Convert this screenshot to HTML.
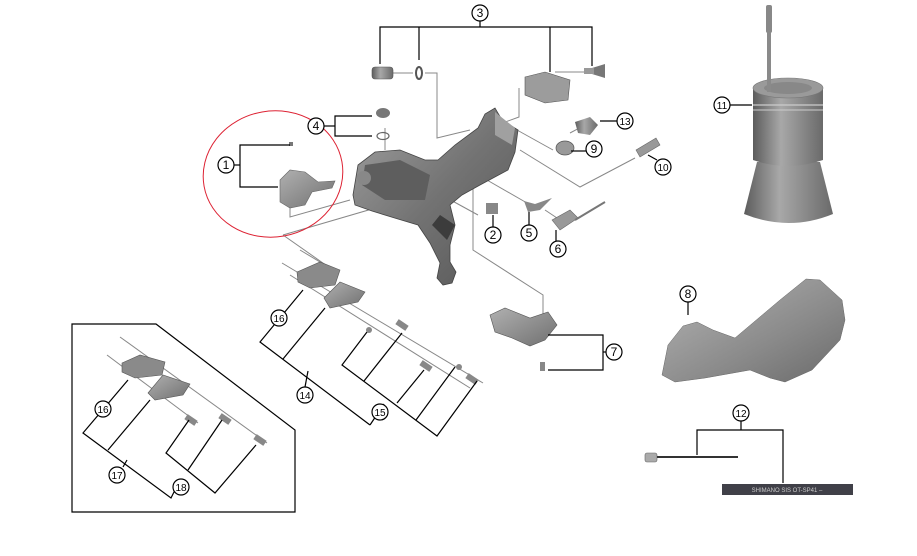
<!DOCTYPE html>
<html><head><meta charset="utf-8"><style>
html,body{margin:0;padding:0;background:#fff;}
svg{display:block;}
text{font-family:"Liberation Sans",sans-serif;font-size:12px;fill:#000;text-anchor:middle;}
</style></head><body>
<svg width="917" height="556" viewBox="0 0 917 556" xmlns="http://www.w3.org/2000/svg">
<defs>
<linearGradient id="g1" x1="0" y1="0" x2="1" y2="1"><stop offset="0" stop-color="#a0a0a0"/><stop offset="0.5" stop-color="#737373"/><stop offset="1" stop-color="#555"/></linearGradient>
<linearGradient id="g2" x1="0" y1="0" x2="1" y2="0"><stop offset="0" stop-color="#5c5c5c"/><stop offset="0.4" stop-color="#a8a8a8"/><stop offset="1" stop-color="#6a6a6a"/></linearGradient>
<linearGradient id="g3" x1="0" y1="0" x2="1" y2="1"><stop offset="0" stop-color="#b0b0b0"/><stop offset="1" stop-color="#707070"/></linearGradient>
<linearGradient id="g4" x1="0" y1="0" x2="1" y2="1"><stop offset="0" stop-color="#b5b5b5"/><stop offset="0.6" stop-color="#8a8a8a"/><stop offset="1" stop-color="#6a6a6a"/></linearGradient>
</defs>
<g stroke="#888" stroke-width="1" fill="none">
<polyline points="393,73 413,73"/>
<polyline points="425,73 437,73 437,138 470,130"/>
<polyline points="519,88 519,117 497,125"/>
<polyline points="555,72 592,72"/>
<polyline points="385,128 385,150"/>
<polyline points="517,130 553,150"/>
<polyline points="570,133 585,125"/>
<polyline points="520,150 580,187 635,158"/>
<polyline points="290,205 290,217 350,200"/>
<polyline points="283,235 437,190"/>
<polyline points="283,235 330,268"/>
<polyline points="447,198 478,215"/>
<polyline points="473,172 527,203"/>
<polyline points="545,210 560,220"/>
<polyline points="473,185 473,250 543,295 543,317"/>
<polyline points="282,263 483,383"/>
<polyline points="300,250 330,268"/>
<polyline points="290,275 470,388"/>
<polyline points="120,337 267,443"/>
<polyline points="107,355 198,423"/>
</g>
<ellipse cx="273" cy="174" rx="70" ry="63" fill="none" stroke="#d23" stroke-width="1" transform="rotate(-10 273 174)"/>
<path d="M353,195 L358,165 L375,152 L400,150 L425,160 L438,160 L455,145 L478,128 L485,114 L495,108 L502,120 L518,130 L515,152 L508,170 L480,185 L462,195 L450,205 L455,225 L450,245 L450,262 L456,272 L452,283 L443,285 L437,278 L440,263 L430,243 L418,225 L398,219 L372,211 L355,205 Z" fill="url(#g1)" stroke="#444" stroke-width="0.8"/>
<path d="M365,165 L400,160 L430,175 L425,200 L385,200 L362,185 Z" fill="#5e5e5e"/>
<circle cx="364" cy="178" r="7" fill="#888"/>
<path d="M495,112 L515,128 L512,145 L495,135 Z" fill="#a0a0a0"/>
<path d="M440,215 L455,225 L447,240 L432,225 Z" fill="#3c3c3c"/>
<rect x="372" y="67" width="21" height="12" rx="3" fill="url(#g2)" stroke="#555" stroke-width="0.6"/>
<ellipse cx="419" cy="73" rx="3" ry="6" fill="none" stroke="#555" stroke-width="2"/>
<path d="M525,77 L545,72 L570,80 L568,100 L545,103 L525,95 Z" fill="#9c9c9c" stroke="#555" stroke-width="0.6"/>
<path d="M592,68 L605,64 L605,78 L592,74 Z" fill="#777"/>
<rect x="584" y="68" width="10" height="6" fill="#999"/>
<ellipse cx="383" cy="113" rx="7" ry="5" fill="#777"/>
<ellipse cx="383" cy="136" rx="6" ry="3.5" fill="none" stroke="#666" stroke-width="1.2"/>
<rect x="289" y="142" width="4" height="4" fill="#777"/>
<path d="M280,180 L290,170 L305,172 L318,182 L335,181 L332,188 L312,192 L305,205 L290,208 L280,202 Z" fill="url(#g3)" stroke="#666" stroke-width="0.6"/>
<path d="M575,122 L590,117 L598,125 L590,135 L578,133 Z" fill="url(#g2)"/>
<ellipse cx="565" cy="148" rx="9" ry="7" fill="#999" stroke="#555" stroke-width="0.7"/>
<path d="M636,150 L656,138 L660,145 L640,157 Z" fill="#999" stroke="#666" stroke-width="0.6"/>
<rect x="486" y="203" width="12" height="11" fill="#888"/>
<path d="M524,201 L535,204 L552,198 L540,210 L528,212 Z" fill="#888"/>
<path d="M552,220 L570,210 L578,218 L560,230 Z" fill="#999" stroke="#666" stroke-width="0.6"/>
<line x1="575" y1="220" x2="605" y2="202" stroke="#777" stroke-width="2"/>
<path d="M490,315 L505,308 L530,318 L548,312 L557,325 L545,340 L530,346 L512,338 L495,332 Z" fill="url(#g3)" stroke="#555" stroke-width="0.6"/>
<rect x="540" y="362" width="5" height="9" fill="#888"/>
<path d="M297,272 L320,262 L340,270 L335,285 L310,288 L298,282 Z" fill="#8a8a8a" stroke="#555" stroke-width="0.6"/>
<path d="M324,298 L340,282 L365,292 L358,302 L330,308 Z" fill="url(#g3)" stroke="#555" stroke-width="0.6"/>
<g fill="#888">
<rect x="396" y="322" width="12" height="6" transform="rotate(34 402 325)"/>
<rect x="420" y="363" width="12" height="6" transform="rotate(34 426 366)"/>
<rect x="466" y="376" width="12" height="6" transform="rotate(34 472 379)"/>
<circle cx="369" cy="330" r="3"/><circle cx="459" cy="367" r="3"/>
<rect x="185" y="417" width="12" height="6" transform="rotate(34 191 420)"/>
<rect x="219" y="416" width="12" height="6" transform="rotate(34 225 419)"/>
<rect x="254" y="437" width="12" height="6" transform="rotate(34 260 440)"/>
</g>
<path d="M122,363 L140,355 L165,362 L162,375 L135,378 L122,372 Z" fill="#8a8a8a" stroke="#555" stroke-width="0.6"/>
<path d="M148,393 L163,375 L190,384 L183,395 L155,400 Z" fill="url(#g3)" stroke="#555" stroke-width="0.6"/>
<g stroke="#000" stroke-width="1.2" fill="none">
<polyline points="380,64 380,27 592,27 592,66"/>
<line x1="419" y1="27" x2="419" y2="60"/><line x1="550" y1="27" x2="550" y2="72"/><line x1="480" y1="21" x2="480" y2="27"/>
<polyline points="372,116 335,116 335,136 372,136"/><line x1="324" y1="126" x2="335" y2="126"/>
<polyline points="290,145 240,145 240,187 278,187"/><line x1="234" y1="165" x2="240" y2="165"/>
<line x1="600" y1="121" x2="617" y2="121"/>
<line x1="571" y1="151" x2="586" y2="151"/>
<line x1="648" y1="155" x2="657" y2="160"/>
<line x1="730" y1="105" x2="752" y2="105"/>
<line x1="493" y1="215" x2="493" y2="227"/><line x1="529" y1="212" x2="529" y2="225"/><line x1="556" y1="230" x2="556" y2="241"/>
<polyline points="548,335 603,335 603,370 548,370"/><line x1="603" y1="352" x2="606" y2="352"/>
<line x1="688" y1="302" x2="688" y2="315"/>
<polyline points="697,455 697,430 783,430 783,483"/><line x1="741" y1="421" x2="741" y2="430"/>
<polyline points="303,290 260,342 370,425"/>
<line x1="325" y1="308" x2="283" y2="359"/>
<line x1="308" y1="371" x2="305" y2="387"/>
<polyline points="367,332 342,365 437,436 477,381"/>
<line x1="402" y1="333" x2="364" y2="381"/><line x1="424" y1="370" x2="397" y2="403"/><line x1="455" y1="367" x2="416" y2="420"/>
<line x1="370" y1="425" x2="384" y2="404"/>
<polygon points="72,324 156,324 295,430 295,512 72,512"/>
<polyline points="128,380 83,433 171,498 180,480"/><line x1="150" y1="400" x2="108" y2="450"/>
<polyline points="189,420 166,453 215,493 256,445"/><line x1="222" y1="420" x2="188" y2="470"/>
<line x1="123" y1="467" x2="127" y2="460"/>
</g>
<g fill="#fff" stroke="#000" stroke-width="1.2">
<circle cx="480" cy="13" r="8"/><circle cx="316" cy="126" r="8"/><circle cx="226" cy="165" r="8"/>
<circle cx="625" cy="121" r="8"/><circle cx="594" cy="149" r="8"/><circle cx="663" cy="167" r="8"/>
<circle cx="722" cy="105" r="8"/><circle cx="493" cy="235" r="8"/><circle cx="529" cy="233" r="8"/>
<circle cx="558" cy="249" r="8"/><circle cx="614" cy="352" r="8"/><circle cx="688" cy="294" r="8"/>
<circle cx="741" cy="413" r="8"/><circle cx="279" cy="318" r="8"/><circle cx="305" cy="395" r="8"/>
<circle cx="380" cy="412" r="8"/><circle cx="103" cy="409" r="8"/><circle cx="117" cy="475" r="8"/>
<circle cx="181" cy="487" r="8"/>
</g>
<g>
<text x="480" y="17">3</text><text x="316" y="130">4</text><text x="226" y="169">1</text>
<text x="625" y="125" style="font-size:10px">13</text><text x="594" y="153">9</text><text x="663" y="171" style="font-size:10px">10</text>
<text x="722" y="109" style="font-size:10px">11</text><text x="493" y="239">2</text><text x="529" y="237">5</text>
<text x="558" y="253">6</text><text x="614" y="356">7</text><text x="688" y="298">8</text>
<text x="741" y="417" style="font-size:10px">12</text><text x="279" y="322" style="font-size:10px">16</text><text x="305" y="399" style="font-size:10px">14</text>
<text x="380" y="416" style="font-size:10px">15</text><text x="103" y="413" style="font-size:10px">16</text><text x="117" y="479" style="font-size:10px">17</text>
<text x="181" y="491" style="font-size:10px">18</text>
</g>
<path d="M744,214 L757,162 L820,162 L833,214 Q789,232 744,214 Z" fill="url(#g2)"/>
<path d="M753,88 L753,160 Q788,172 823,160 L823,88 Z" fill="url(#g2)"/>
<ellipse cx="788" cy="88" rx="35" ry="10" fill="#9a9a9a" stroke="#777" stroke-width="0.6"/>
<ellipse cx="788" cy="88" rx="24" ry="6" fill="#888"/>
<line x1="753" y1="105" x2="823" y2="105" stroke="#ccc" stroke-width="1.2"/>
<line x1="753" y1="110" x2="823" y2="110" stroke="#ccc" stroke-width="1"/>
<rect x="766" y="5" width="6" height="28" rx="2" fill="#888"/>
<rect x="767" y="30" width="4" height="62" fill="#8a8a8a"/>
<path d="M662,375 L668,345 L683,326 L697,322 L713,330 L735,338 L780,300 L806,279 L820,280 L842,300 L845,320 L840,340 L812,370 L785,382 L770,378 L750,370 L705,378 L675,382 Z" fill="url(#g4)" stroke="#666" stroke-width="0.5"/>
<rect x="645" y="453" width="12" height="9" rx="2" fill="#aaa" stroke="#666" stroke-width="0.6"/>
<line x1="657" y1="457" x2="738" y2="457" stroke="#333" stroke-width="2"/>
<rect x="722" y="484" width="131" height="11" fill="#404048"/>
<text x="787" y="492" style="font-size:6px;fill:#ccc;">SHIMANO SIS  OT-SP41 –</text>
</svg>
</body></html>
